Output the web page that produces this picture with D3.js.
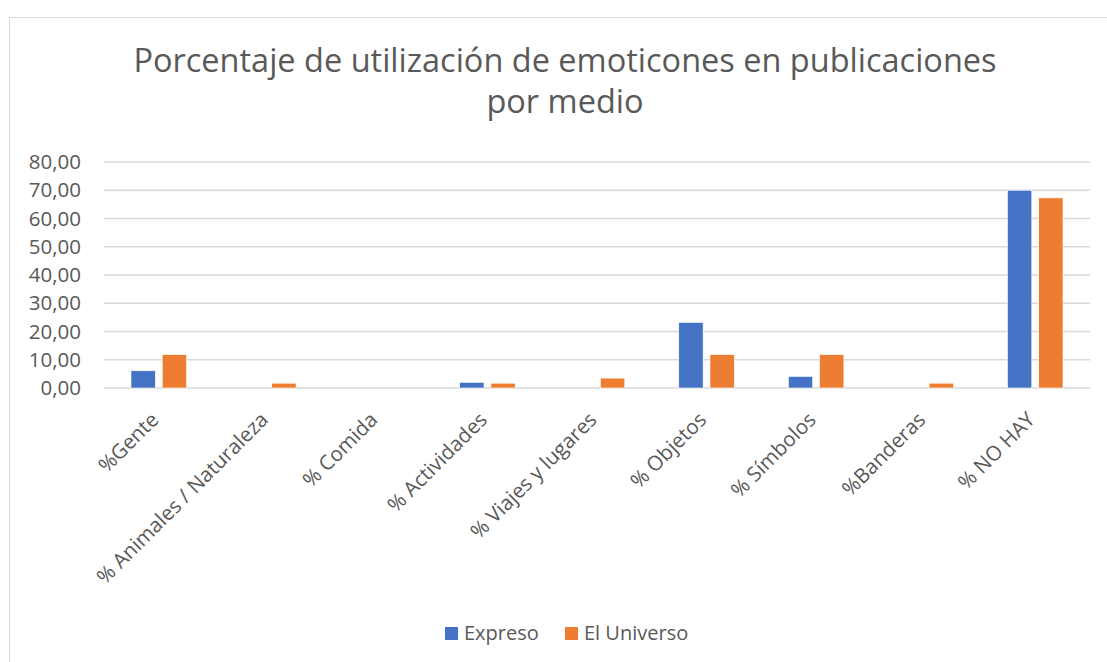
<html><head><meta http-equiv="Content-Type" content="text/html; charset=UTF-8"><title>emoticones por medio</title>
<script src="https://cdn.jsdelivr.net/npm/d3@7/dist/d3.min.js"></script>
<style>
	body	{ margin:0; background:#fff; }
	svg	{ display:block; font-family:"Open Sans", sans-serif; }
	.tick text	{ fill:#595959; }
</style>
</head><body>
<svg id="chart" width="1107" height="662"></svg>
<script>
// datos
var categorias=["%Gente","% Animales / Naturaleza","% Comida","% Actividades","% Viajes y lugares","% Objetos","% Símbolos","%Banderas","% NO HAY"];
var series=["Expreso","El Universo"];
var expreso=[6.1,0,0,2.0,0,23.2,4.1,0,70.0];
var universo=[11.8,1.7,0,1.7,3.5,11.8,11.8,1.7,67.3];
var yTicks=[0,10,20,30,40,50,60,70,80];
var colores=["#4472c4","#ed7d31"];
var titulo=["Porcentaje de utilización de emoticones en publicaciones","por medio"];

var svg=d3.select('#chart');
var m={left:104, right:1090, top:162, bottom:388};

// marco del grafico
svg.append('rect').attr('x',9.5).attr('y',17.5).attr('width',1120).attr('height',700)
	.attr('fill','#fff').attr('stroke','#d9d9d9').attr('stroke-width',1);

// titulo (dos lineas)
var t=svg.append('text').attr('text-anchor','middle').attr('fill','#595959').attr('font-size',32.5);
t.selectAll('tspan').data(titulo).enter().append('tspan')
	.attr('x',565).attr('y',function(d,i){return 72+i*41;}).text(function(d){return d;});

var locale=d3.formatLocale({decimal:",",thousands:".",grouping:[3],currency:["","€"]});
var fmt=locale.format(".2f");

var y=d3.scaleLinear().domain([0,80]).range([m.bottom,m.top]);
var x0=d3.scaleBand().domain(categorias).range([m.left,m.right]).paddingInner(0.493).paddingOuter(0.2465);
var x1=d3.scaleBand().domain(series).range([0,x0.bandwidth()]).paddingInner(0.22);

// rejilla
svg.append('g').selectAll('line').data(yTicks).enter().append('line')
	.attr('x1',m.left).attr('x2',m.right)
	.attr('y1',function(d){return y(d);}).attr('y2',function(d){return y(d);})
	.attr('stroke','#d9d9d9').attr('stroke-width',1.3);

// eje y
var ay=svg.append('g').attr('transform','translate(83,0)')
	.call(d3.axisLeft(y).tickValues(yTicks).tickFormat(fmt).tickSize(0).tickPadding(2));
ay.select('.domain').remove();
ay.selectAll('text').attr('font-size',20.5).attr('font-family','"Open Sans", sans-serif');

// barras
var filas=categorias.map(function(c,i){return {cat:c,vals:[expreso[i],universo[i]]};});
var g=svg.append('g').selectAll('g').data(filas).enter().append('g')
	.attr('transform',function(d){return 'translate('+x0(d.cat)+',0)';});
g.selectAll('rect').data(function(d){return d.vals.map(function(v,k){return {s:series[k],v:v,k:k};});})
	.enter().filter(function(d){return d.v>0;}).append('rect')
	.attr('x',function(d){return x1(d.s);}).attr('width',x1.bandwidth())
	.attr('y',function(d){return y(d.v);}).attr('height',function(d){return y(0)-y(d.v);})
	.attr('fill',function(d){return colores[d.k];})
	.attr('stroke','#fff').attr('stroke-width',0.6);

// eje x, etiquetas a -45 grados
var ax=svg.append('g').attr('transform','translate(0,'+m.bottom+')')
	.call(d3.axisBottom(x0).tickSize(0).tickPadding(0));
ax.select('.domain').remove();
ax.selectAll('text').attr('font-size',20.5).attr('font-family','"Open Sans", sans-serif')
	.attr('text-anchor','end').attr('dy',0)
	.attr('transform','translate(1,33) rotate(-45)');

// leyenda
var ley=svg.append('g').attr('transform','translate(445,627)');
var xs=[0,120];
series.forEach(function(s,i){
	ley.append('rect').attr('x',xs[i]).attr('y',0).attr('width',13).attr('height',13).attr('fill',colores[i]);
	ley.append('text').attr('x',xs[i]+19).attr('y',13).attr('font-size',20).attr('fill','#595959').text(s);
});
</script>
</body></html>
